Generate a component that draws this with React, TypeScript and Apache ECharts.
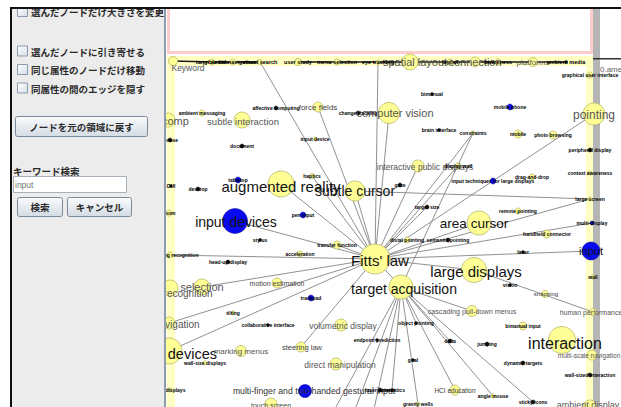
import React, { useEffect, useRef } from "react";
import * as echarts from "echarts";

// ---------- data ----------
// [name, x, y, radius, kind]  kind: Y = yellow keyword, B = blue (search hit), K = black dot
type GNode = [string, number, number, number, string];

const keyNodes: GNode[] = [
  ["Fitts' law", 375, 259, 15, "Y"],
  ["target acquisition", 401, 287, 12, "Y"],
  ["large displays", 474, 270, 12.5, "Y"],
  ["area cursor", 479, 223, 12, "Y"],
  ["subtle cursor", 355, 191, 10, "Y"],
  ["augmented reality", 281, 184, 13, "Y"],
  ["input devices", 235, 221, 12.5, "B"],
  ["interaction", 562, 340, 13.5, "Y"],
  ["mobile devices", 169, 351, 13, "Y"],
  ["input", 591, 251, 9, "B"],
  ["pointing", 594, 114, 11, "Y"],
  ["computer vision", 389, 113, 10.5, "Y"],
  ["subtle interaction", 242, 120, 8, "Y"],
  ["spatial layout", 410, 62, 8, "Y"],
  ["connection", 475, 62, 5, "Y"],
  ["platforms", 533, 62, 4.5, "Y"],
  ["selection", 202, 287, 8, "Y"],
  ["gesture recognition", 170, 288, 8, "Y"],
  ["3D navigation", 169, 323, 6, "Y"],
  ["ubicomp", 168, 120, 7, "Y"],
  ["Keyword", 173, 61, 4.5, "Y"],
  ["force fields", 318, 107, 5, "Y"],
  ["interactive public displays", 418, 166, 6, "Y"],
  ["motion estimation", 277, 283, 5, "Y"],
  ["volumetric display", 341, 325, 6, "Y"],
  ["steering law", 301, 347, 5, "Y"],
  ["marking menus", 241, 351, 5.5, "Y"],
  ["direct manipulation", 336, 364, 6, "Y"],
  ["multi-finger and two-handed gestural input", 305, 391, 6.5, "B"],
  ["touch screen", 271, 404, 6, "Y"],
  ["cascading pull-down menus", 472, 311, 5.5, "Y"],
  ["human performance", 593, 312, 3.5, "Y"],
  ["multi-scale navigation", 592, 355, 5, "Y"],
  ["ambient display", 590, 407, 7, "Y"],
  ["HCI education", 455, 390, 5, "Y"],
  ["snapping", 545, 294, 3.5, "Y"],
];

const minorNodes: GNode[] = [
  ["tangible bits", 212, 62, 3, "Y"],
  ["social navigation", 233, 62, 3, "Y"],
  ["visual search", 260, 62, 2.5, "Y"],
  ["user study", 298, 62, 3.5, "Y"],
  ["menu selection", 337, 62, 3, "Y"],
  ["eye tracking", 378, 62, 2, "Y"],
  ["layout", 450, 62, 3, "Y"],
  ["awareness", 498, 62, 3, "Y"],
  ["ambient media", 566, 62, 1.5, "K"],
  ["graphical user interface", 590, 75, 3, "Y"],
  ["bimanual", 432, 94, 1.5, "K"],
  ["mobile phone", 510, 107, 3, "B"],
  ["brain interface", 439, 130, 1.5, "K"],
  ["constraints", 473, 133, 2, "Y"],
  ["mobile", 518, 134, 4, "Y"],
  ["photo browsing", 553, 135, 4, "Y"],
  ["peripheral display", 590, 150, 2, "K"],
  ["context awareness", 590, 173, 2, "Y"],
  ["ambient messaging", 202, 113, 3, "Y"],
  ["affective computing", 276, 108, 2, "K"],
  ["change tracking", 358, 113, 2, "K"],
  ["document", 242, 146, 2, "K"],
  ["input device", 315, 139, 2, "Y"],
  ["mouse", 170, 140, 2, "K"],
  ["tabletop", 238, 180, 3, "B"],
  ["haptics", 312, 176, 2.5, "Y"],
  ["GUI", 171, 186, 1.5, "K"],
  ["desktop", 198, 189, 2, "K"],
  ["pen input", 303, 215, 3, "B"],
  ["stylus", 260, 240, 1.5, "K"],
  ["zoom", 169, 213, 3, "Y"],
  ["transfer function", 337, 245, 4, "Y"],
  ["acceleration", 300, 254, 3, "Y"],
  ["handwriting recognition", 170, 255, 3, "Y"],
  ["head-up display", 228, 262, 2, "K"],
  ["trackpad", 311, 298, 3, "B"],
  ["tilting", 233, 313, 2, "Y"],
  ["collaborative interface", 268, 325, 1.5, "K"],
  ["endpoint prediction", 377, 340, 1.5, "K"],
  ["wall-size displays", 205, 363, 2, "Y"],
  ["wall displays", 170, 390, 2, "Y"],
  ["laser pointer", 380, 390, 2, "K"],
  ["target size", 427, 207, 2, "K"],
  ["distal pointing", 407, 240, 3, "Y"],
  ["semantic pointing", 448, 240, 2, "K"],
  ["gaze", 400, 185, 2, "K"],
  ["input techniques for large displays", 493, 181, 3, "B"],
  ["drag-and-drop", 532, 177, 3, "Y"],
  ["remote pointing", 518, 211, 3, "Y"],
  ["handheld connector", 547, 234, 4, "Y"],
  ["laser", 523, 252, 1.5, "K"],
  ["multi-display", 592, 223, 2, "B"],
  ["large screen", 590, 199, 2, "Y"],
  ["wall", 593, 277, 2, "Y"],
  ["display wall", 458, 166, 3, "Y"],
  ["vision", 510, 285, 1.5, "K"],
  ["object pointing", 416, 323, 1.5, "K"],
  ["bimanual input", 523, 326, 4, "Y"],
  ["delta", 450, 341, 2, "K"],
  ["jumping", 487, 344, 2, "K"],
  ["dynamic targets", 523, 363, 2, "K"],
  ["goal", 413, 360, 1.5, "K"],
  ["wall-sized interaction", 590, 375, 2, "K"],
  ["kinematics", 392, 390, 1.5, "K"],
  ["angle mouse", 493, 396, 2, "Y"],
  ["sticky icons", 533, 402, 2, "K"],
  ["gravity wells", 418, 404, 2, "Y"],
  ["crossing", 330, 418, 2, "Y"],
  ["lasso selection", 352, 418, 2, "Y"],
  ["bubble lens", 372, 418, 2, "Y"],
];

const edges: [string, string][] = [
  ["Fitts' law", "visual search"],
  ["Fitts' law", "eye tracking"],
  ["Fitts' law", "computer vision"],
  ["Fitts' law", "force fields"],
  ["Fitts' law", "constraints"],
  ["Fitts' law", "display wall"],
  ["Fitts' law", "interactive public displays"],
  ["Fitts' law", "pointing"],
  ["Fitts' law", "area cursor"],
  ["Fitts' law", "large displays"],
  ["Fitts' law", "subtle cursor"],
  ["Fitts' law", "augmented reality"],
  ["Fitts' law", "input devices"],
  ["Fitts' law", "handwriting recognition"],
  ["Fitts' law", "selection"],
  ["Fitts' law", "3D navigation"],
  ["Fitts' law", "mobile devices"],
  ["Fitts' law", "steering law"],
  ["Fitts' law", "large screen"],
  ["Fitts' law", "multi-display"],
  ["Fitts' law", "input"],
  ["Fitts' law", "target acquisition"],
  ["Fitts' law", "transfer function"],
  ["Fitts' law", "haptics"],
  ["Fitts' law", "target size"],
  ["target acquisition", "constraints"],
  ["target acquisition", "cascading pull-down menus"],
  ["target acquisition", "HCI education"],
  ["target acquisition", "angle mouse"],
  ["target acquisition", "sticky icons"],
  ["target acquisition", "gravity wells"],
  ["target acquisition", "kinematics"],
  ["target acquisition", "object pointing"],
  ["target acquisition", "crossing"],
  ["target acquisition", "lasso selection"],
  ["target acquisition", "bubble lens"],
  ["target acquisition", "delta"],
  ["large displays", "human performance"],
  ["subtle cursor", "large screen"],
];

// edges between keywords that were pushed onto the top border of the view
const borderEdges: [string, string][] = [
  ["Keyword", "tangible bits"],
  ["tangible bits", "social navigation"],
  ["social navigation", "visual search"],
  ["user study", "menu selection"],
  ["menu selection", "eye tracking"],
  ["eye tracking", "spatial layout"],
  ["spatial layout", "layout"],
  ["layout", "connection"],
  ["connection", "awareness"],
  ["awareness", "platforms"],
  ["platforms", "ambient media"],
];

const panelChecks = [
  "選んだノードだけ大きさを変更",
  "選んだノードに引き寄せる",
  "同じ属性のノードだけ移動",
  "同属性の間のエッジを隠す",
];
const resetButton = "ノードを元の領域に戻す";
const searchLabel = "キーワード検索";
const searchValue = "input";
const searchButtons = ["検索", "キャンセル"];

// ---------- styles ----------
// label style: [fontSize, color, dx, dy]
const labelStyle: Record<string, [number, string, number, number]> = {
  "Fitts' law": [15, "#111", 5, 1],
  "target acquisition": [14, "#111", 3, 2],
  "large displays": [15, "#111", 2, 1],
  "area cursor": [13.5, "#111", -5, 0],
  "subtle cursor": [14, "#111", 0, 0],
  "augmented reality": [15, "#111", 0, 2],
  "input devices": [14, "#111", 1, 1],
  "interaction": [16, "#111", 3, 3],
  "mobile devices": [14.5, "#111", 0, 3],
  "input": [11, "#111", 0, 0],
  "pointing": [12, "#555", 0, 1],
  "computer vision": [11, "#555", 6, 0],
  "subtle interaction": [9.5, "#555", 1, 1],
  "spatial layout": [11, "#555", 5, 0],
  "connection": [11, "#555", 0, 0],
  "platforms": [8, "#555", 0, 0],
  "selection": [11, "#555", 0, 0],
  "gesture recognition": [10, "#555", 0, 5],
  "3D navigation": [10, "#555", 0, 1],
  "ubicomp": [11, "#555", 0, 1],
  "Keyword": [8.5, "#555", 15, 7],
  "force fields": [8, "#444", 0, 0],
  "interactive public displays": [8.5, "#555", 7, 1],
  "motion estimation": [7, "#444", 0, 0],
  "volumetric display": [8.5, "#555", 2, 1],
  "steering law": [7.5, "#444", 1, 0],
  "marking menus": [8, "#555", 0, 0],
  "direct manipulation": [8.5, "#555", 4, 1],
  "multi-finger and two-handed gestural input": [8.7, "#333", 9, 0],
  "touch screen": [7, "#444", 0, 1],
  "cascading pull-down menus": [7.2, "#555", 0, 0],
  "human performance": [7, "#555", -2, 0],
  "multi-scale navigation": [6.5, "#555", -3, 0],
  "ambient display": [9, "#555", -2, -2],
  "HCI education": [6.5, "#333", 0, 0],
  "snapping": [6, "#333", 1, 0],
};

const kindStyle: Record<string, { color: string; borderColor: string }> = {
  Y: { color: "#ffff96", borderColor: "#b8b86a" },
  B: { color: "#0a0af0", borderColor: "#000090" },
  K: { color: "#111111", borderColor: "#111111" },
};

const JP = '"Noto Sans CJK JP", sans-serif';

function buildOption() {
  const all = [...keyNodes, ...minorNodes];
  const index: Record<string, number> = {};
  all.forEach((n, i) => (index[n[0]] = i));

  const data = all.map(([name, x, y, r, kind]) => {
    const ls = labelStyle[name];
    const isTopRow = y < 64;
    const lab = ls
      ? { fontSize: ls[0], color: ls[1], offset: [ls[2], ls[3]], fontWeight: "normal" }
      : { fontSize: isTopRow ? 5.5 : 5, color: "#000", offset: [0, 0], fontWeight: "bold" };
    return {
      name,
      value: [x, y],
      symbolSize: r * 2,
      itemStyle: { ...kindStyle[kind], borderWidth: kind === "Y" ? 0.8 : 0.5 },
      label: {
        show: true,
        position: "inside",
        fontFamily: '"Liberation Sans", Arial, sans-serif',
        ...lab,
      },
    };
  });

  const links = [
    ...edges.map(([s, t]) => ({ source: index[s], target: index[t] })),
    ...borderEdges.map(([s, t]) => ({
      source: index[s],
      target: index[t],
      lineStyle: { color: "#1a1a1a", width: 1.6 },
    })),
  ];

  const gradBtn = new echarts.graphic.LinearGradient(0, 0, 0, 1, [
    { offset: 0, color: "#fbfcfd" },
    { offset: 1, color: "#d3dbe4" },
  ]);
  const gradBox = new echarts.graphic.LinearGradient(0, 0, 1, 1, [
    { offset: 0, color: "#ffffff" },
    { offset: 1, color: "#d6dee8" },
  ]);

  const rowY = [12, 51.5, 70, 88.5];
  const overlay: any[] = [
    { type: "rect", z: 100, shape: { x: 12, y: 9, width: 152, height: 400 }, style: { fill: "#ececec" } },
    { type: "rect", z: 100, shape: { x: 164, y: 9, width: 2, height: 400 }, style: { fill: "#8d9cab" } },
  ];
  panelChecks.forEach((t, i) => {
    overlay.push({
      type: "rect", z: 101,
      shape: { x: 17.5, y: rowY[i] - 5.5, width: 10, height: 10 },
      style: { fill: gradBox, stroke: "#8a9aac", lineWidth: 1 },
    });
    overlay.push({
      type: "text", z: 101, x: 31, y: rowY[i],
      style: { text: t, font: `bold 9.5px ${JP}`, fill: "#2a2a2a", verticalAlign: "middle" },
    });
  });
  overlay.push(
    { type: "rect", z: 101, shape: { x: 15.5, y: 116.5, width: 132, height: 20, r: 2 }, style: { fill: gradBtn, stroke: "#7a8a99", lineWidth: 1 } },
    { type: "text", z: 102, x: 81.5, y: 127, style: { text: resetButton, font: `bold 9.5px ${JP}`, fill: "#2a2a2a", align: "center", verticalAlign: "middle" } },
    { type: "text", z: 101, x: 13, y: 170.5, style: { text: searchLabel, font: `bold 9.5px ${JP}`, fill: "#2a2a2a", verticalAlign: "middle" } },
    { type: "rect", z: 101, shape: { x: 13.5, y: 176.5, width: 113, height: 16 }, style: { fill: "#ffffff", stroke: "#a5b0bb", lineWidth: 1 } },
    { type: "text", z: 102, x: 15, y: 185, style: { text: searchValue, font: '8.5px "Liberation Sans", sans-serif', fill: "#777", verticalAlign: "middle" } },
    { type: "rect", z: 101, shape: { x: 17.5, y: 197.5, width: 45, height: 19, r: 2 }, style: { fill: gradBtn, stroke: "#7a8a99", lineWidth: 1 } },
    { type: "text", z: 102, x: 40, y: 207, style: { text: searchButtons[0], font: `bold 9.5px ${JP}`, fill: "#2a2a2a", align: "center", verticalAlign: "middle" } },
    { type: "rect", z: 101, shape: { x: 67.5, y: 197.5, width: 64, height: 19, r: 2 }, style: { fill: gradBtn, stroke: "#7a8a99", lineWidth: 1 } },
    { type: "text", z: 102, x: 99.5, y: 207, style: { text: searchButtons[1], font: `bold 9.5px ${JP}`, fill: "#2a2a2a", align: "center", verticalAlign: "middle" } },
    // outer window edges
    { type: "rect", z: 110, shape: { x: 0, y: 0, width: 621, height: 7 }, style: { fill: "#ffffff" } },
    { type: "rect", z: 110, shape: { x: 0, y: 0, width: 10, height: 407 }, style: { fill: "#ffffff" } },
    { type: "rect", z: 111, shape: { x: 10, y: 7, width: 611, height: 2 }, style: { fill: "#111" } },
    { type: "rect", z: 111, shape: { x: 10, y: 7, width: 2, height: 400 }, style: { fill: "#111" } },
  );

  const background: any[] = [
    { type: "rect", z: 0, shape: { x: 167, y: 56, width: 426, height: 360 }, style: { fill: "#ffffc4" } },
    { type: "rect", z: 0, shape: { x: 175, y: 66, width: 411, height: 350 }, style: { fill: "#ffffff" } },
    { type: "rect", z: 0, shape: { x: 168.5, y: 7, width: 423, height: 45.5 }, style: { fill: "#ffffff", stroke: "#ffcccc", lineWidth: 3 } },
    { type: "rect", z: 0, shape: { x: 593, y: 9, width: 7, height: 400 }, style: { fill: "#b5b5b5" } },
    { type: "rect", z: 0, shape: { x: 593, y: 58, width: 28, height: 1.5 }, style: { fill: "#333" } },
    { type: "text", z: 0, x: 600, y: 69, style: { text: "0.ame", font: '8px "Liberation Sans", sans-serif', fill: "#666", verticalAlign: "middle" } },
  ];

  return {
    animation: false,
    backgroundColor: "#ffffff",
    grid: { left: 0, right: 0, top: 0, bottom: 0 },
    xAxis: { type: "value", min: 0, max: 621, show: false },
    yAxis: { type: "value", min: 0, max: 407, inverse: true, show: false },
    graphic: { elements: [...background, ...overlay] },
    series: [
      {
        type: "graph",
        coordinateSystem: "cartesian2d",
        silent: true,
        z: 5,
        symbol: "circle",
        edgeSymbol: ["none", "none"],
        lineStyle: { color: "#858585", width: 0.9, opacity: 1, curveness: 0 },
        emphasis: { disabled: true },
        data,
        links,
      },
    ],
  };
}

export default function App() {
  const ref = useRef<HTMLDivElement>(null);
  useEffect(() => {
    if (!ref.current) return;
    const chart = echarts.init(ref.current, undefined, { renderer: "svg" });
    chart.setOption(buildOption() as any);
    return () => chart.dispose();
  }, []);
  return (
    <div
      ref={ref}
      style={{ position: "fixed", left: 0, top: 0, width: 621, height: 407, background: "#fff" }}
    />
  );
}
